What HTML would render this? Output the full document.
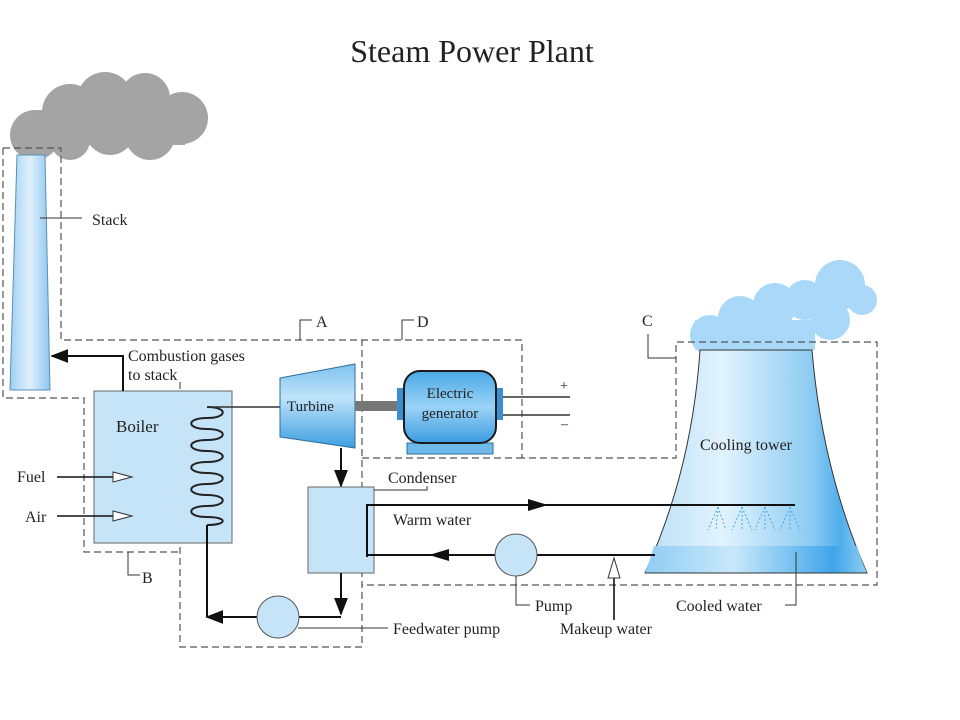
<!DOCTYPE html>
<html><head><meta charset="utf-8"><style>
html,body{margin:0;padding:0;background:#fff;}
svg{display:block;}
text{font-family:"Liberation Serif",serif;fill:#222;}
</style></head><body>
<svg width="960" height="720" viewBox="0 0 960 720" xmlns="http://www.w3.org/2000/svg">
<defs>
<linearGradient id="stk" x1="0" x2="1"><stop offset="0" stop-color="#9fd0f2"/><stop offset="0.5" stop-color="#dff0fc"/><stop offset="1" stop-color="#8cc6ee"/></linearGradient>
<linearGradient id="tur" x1="0" y1="0" x2="0" y2="1"><stop offset="0" stop-color="#7fc2ef"/><stop offset="0.4" stop-color="#bfe3fa"/><stop offset="1" stop-color="#3c9ee0"/></linearGradient>
<linearGradient id="gen" x1="0" y1="0" x2="0" y2="1"><stop offset="0" stop-color="#4aa8e6"/><stop offset="0.5" stop-color="#9ad3f6"/><stop offset="1" stop-color="#3b9be0"/></linearGradient>
<linearGradient id="tow" x1="0" x2="1"><stop offset="0" stop-color="#b8def8"/><stop offset="0.35" stop-color="#e2f3fd"/><stop offset="0.75" stop-color="#8ccbf2"/><stop offset="0.88" stop-color="#4fadeb"/><stop offset="1" stop-color="#9fd4f5"/></linearGradient>
<linearGradient id="band" x1="0" x2="1"><stop offset="0" stop-color="#8fcdf3"/><stop offset="0.4" stop-color="#c8e8fb"/><stop offset="0.85" stop-color="#3fa5ea"/><stop offset="1" stop-color="#8fcdf3"/></linearGradient>
<marker id="ar" viewBox="0 0 10 10" refX="9" refY="5" markerWidth="18" markerHeight="14" markerUnits="userSpaceOnUse" orient="auto" preserveAspectRatio="none"><path d="M0,0 L10,5 L0,10z" fill="#111"/></marker>
</defs>

<text x="472" y="62" font-size="32" text-anchor="middle" fill="#000">Steam Power Plant</text>

<!-- stack cloud -->
<g fill="#a4a4a4">
<circle cx="35" cy="135" r="25"/><circle cx="70" cy="112" r="28"/><circle cx="105" cy="100" r="28"/><circle cx="145" cy="98" r="25"/><circle cx="182" cy="118" r="26"/><circle cx="150" cy="135" r="25"/><circle cx="110" cy="130" r="25"/><circle cx="70" cy="140" r="20"/><rect x="35" y="110" width="150" height="35"/>
</g>

<!-- stack -->
<path d="M17,155 L45,155 L50,390 L10,390 Z" fill="url(#stk)" stroke="#5a8fb8" stroke-width="1"/>
<line x1="40" y1="218" x2="82" y2="218" stroke="#333"/>
<text x="92" y="225" font-size="16">Stack</text>

<!-- cooling tower cloud -->
<g fill="#a9d8f8">
<circle cx="710" cy="335" r="20"/><circle cx="740" cy="318" r="22"/><circle cx="775" cy="305" r="22"/><circle cx="805" cy="300" r="20"/><circle cx="840" cy="285" r="25"/><circle cx="862" cy="300" r="15"/><circle cx="830" cy="320" r="20"/><circle cx="790" cy="335" r="15"/><circle cx="760" cy="335" r="18"/><rect x="695" y="320" width="120" height="30"/>
</g>

<!-- dashed boxes -->
<g fill="none" stroke="#555" stroke-width="1.2" stroke-dasharray="7,4">
<path d="M3,148 L61,148 L61,340 L522,340 L522,458 L676,458 L676,342 L877,342 L877,585 L362,585"/>
<path d="M3,148 L3,398 L84,398 L84,552 L180,552"/>
<path d="M180,382 L180,647 L362,647 L362,340"/>
<path d="M362,458 L522,458"/>
</g>
<g fill="none" stroke="#333" stroke-width="1">
<path d="M300,340 L300,320 L312,320"/>
<path d="M402,340 L402,320 L414,320"/>
<path d="M676,358 L648,358 L648,334"/>
<path d="M128,552 L128,575 L140,575"/>
</g>
<text x="316" y="327" font-size="16">A</text>
<text x="417" y="327" font-size="16">D</text>
<text x="642" y="326" font-size="16">C</text>
<text x="142" y="583" font-size="16">B</text>

<!-- boiler -->
<rect x="94" y="391" width="138" height="152" fill="#c5e4f8" stroke="#666" stroke-width="1"/>
<text x="116" y="432" font-size="17">Boiler</text>
<path d="M207,407 C228,407 228,418 207,418 C186,418 186,429 207,429 C228,429 228,440 207,440 C186,440 186,451 207,451 C228,451 228,462 207,462 C186,462 186,473 207,473 C228,473 228,484 207,484 C186,484 186,495 207,495 C228,495 228,506 207,506 C186,506 186,517 207,517 C228,517 228,525 207,525" fill="none" stroke="#222" stroke-width="2"/>
<line x1="207" y1="407" x2="281" y2="407" stroke="#333" stroke-width="1.5"/>

<path d="M123,391 L123,356 L52,356" fill="none" stroke="#111" stroke-width="2" marker-end="url(#ar)"/>
<text x="128" y="361" font-size="16">Combustion gases</text>
<text x="128" y="380" font-size="16">to stack</text>

<text x="17" y="482" font-size="16">Fuel</text>
<text x="25" y="522" font-size="16">Air</text>
<line x1="57" y1="477" x2="113" y2="477" stroke="#111" stroke-width="1.6"/>
<path d="M113,472 L132,477 L113,482 Z" fill="#fff" stroke="#333"/>
<line x1="57" y1="516" x2="113" y2="516" stroke="#111" stroke-width="1.6"/>
<path d="M113,511 L132,516 L113,521 Z" fill="#fff" stroke="#333"/>

<!-- turbine -->
<path d="M280,378 L355,364 L355,448 L280,437 Z" fill="url(#tur)" stroke="#2d6e9e" stroke-width="1"/>
<text x="287" y="411" font-size="15" fill="#163a5c">Turbine</text>
<rect x="355" y="401" width="42" height="10" fill="#777"/>

<!-- generator -->
<rect x="407" y="443" width="86" height="11" fill="#6fb8ea" stroke="#2d6e9e"/>
<path d="M425,443 L432,428 L468,428 L475,443 Z" fill="#5aaee8"/>
<rect x="397" y="388" width="10" height="32" fill="#3b8fd0"/>
<rect x="493" y="388" width="10" height="32" fill="#3b8fd0"/>
<rect x="404" y="371" width="92" height="72" rx="16" fill="url(#gen)" stroke="#1c1c1c" stroke-width="2"/>
<text x="450" y="398" font-size="15" text-anchor="middle" fill="#163a5c">Electric</text>
<text x="450" y="418" font-size="15" text-anchor="middle" fill="#163a5c">generator</text>
<line x1="503" y1="397" x2="570" y2="397" stroke="#333" stroke-width="1.5"/>
<line x1="503" y1="415" x2="570" y2="415" stroke="#333" stroke-width="1.5"/>
<text x="560" y="390" font-size="14">+</text>
<text x="561" y="428" font-size="14">–</text>

<line x1="341" y1="448" x2="341" y2="486" stroke="#111" stroke-width="2" marker-end="url(#ar)"/>
<rect x="308" y="487" width="66" height="86" fill="#c5e4f8" stroke="#666"/>
<path d="M374,490 L427,490 L427,486" fill="none" stroke="#333"/>
<text x="388" y="483" font-size="16">Condenser</text>
<line x1="341" y1="573" x2="341" y2="614" stroke="#111" stroke-width="2" marker-end="url(#ar)"/>
<path d="M341,617 L299,617" stroke="#111" stroke-width="2"/>
<path d="M257,617 L207,617" stroke="#111" stroke-width="2" fill="none" marker-end="url(#ar)"/>
<line x1="207" y1="525" x2="207" y2="617" stroke="#111" stroke-width="2"/>
<circle cx="278" cy="617" r="21" fill="#c5e4f8" stroke="#555"/>
<line x1="298" y1="628" x2="388" y2="628" stroke="#333"/>
<text x="393" y="634" font-size="16">Feedwater pump</text>

<!-- cooling tower -->
<path d="M700,350 L812,350 Q822,470 867,573 L645,573 Q692,470 700,350 Z" fill="url(#tow)" stroke="#333" stroke-width="1"/>
<path d="M654,546 L857,546 Q861,560 867,573 L645,573 Q650,560 654,546 Z" fill="url(#band)"/>
<path d="M645,573 L867,573" stroke="#333"/>
<text x="700" y="450" font-size="16">Cooling tower</text>
<g stroke="#4aa8e6" stroke-width="1" stroke-dasharray="2,2" fill="none">
<path d="M718,507 L708,530 M718,507 L716,530 M718,507 L726,530"/>
<path d="M742,507 L732,530 M742,507 L742,530 M742,507 L752,530"/>
<path d="M765,507 L755,530 M765,507 L765,530 M765,507 L775,530"/>
<path d="M790,507 L780,530 M790,507 L790,530 M790,507 L800,530"/>
</g>

<path d="M367,557 L367,505 L795,505" fill="none" stroke="#111" stroke-width="2"/>
<path d="M528,499 L548,505 L528,511 Z" fill="#111"/>
<text x="393" y="525" font-size="16">Warm water</text>
<path d="M655,555 L537,555 M495,555 L367,555" stroke="#111" stroke-width="2"/>
<path d="M449,549 L429,555 L449,561 Z" fill="#111"/>
<circle cx="516" cy="555" r="21" fill="#c5e4f8" stroke="#555"/>
<path d="M516,576 L516,605 L530,605" fill="none" stroke="#333"/>
<text x="535" y="611" font-size="16">Pump</text>
<line x1="614" y1="620" x2="614" y2="577" stroke="#111" stroke-width="1.6"/>
<path d="M608,578 L614,558 L620,578 Z" fill="#fff" stroke="#333"/>
<text x="560" y="634" font-size="16">Makeup water</text>
<path d="M796,552 L796,605 L785,605" fill="none" stroke="#333"/>
<text x="676" y="611" font-size="16">Cooled water</text>
</svg>
</body></html>
